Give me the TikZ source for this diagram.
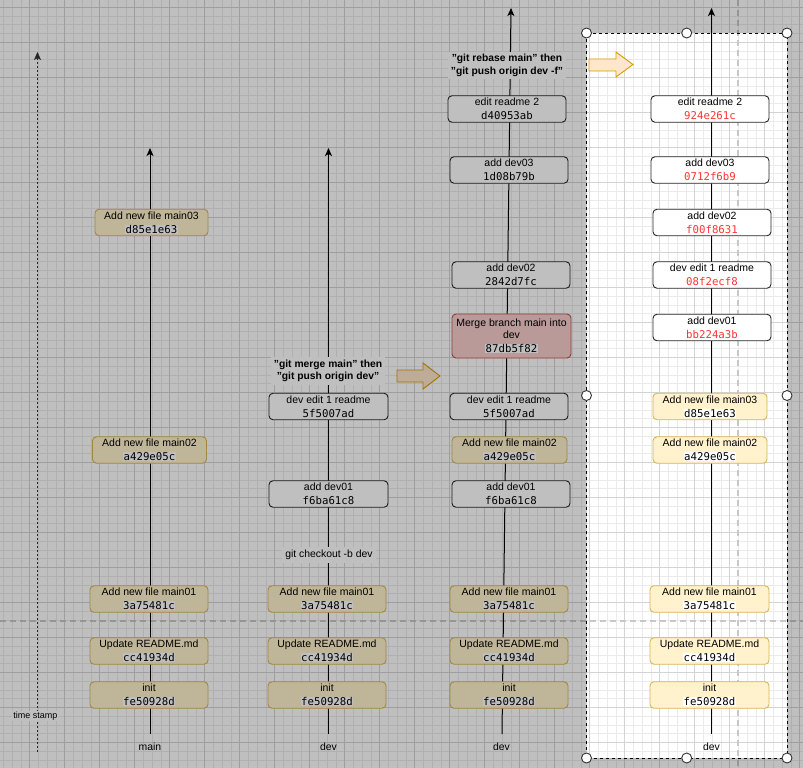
\documentclass[tikz,border=0pt]{standalone}
\usepackage{fontspec}
\setmainfont{Liberation Sans}
\newfontfamily\hashfont{DejaVu Sans Mono}
\usepackage{xcolor}
\usetikzlibrary{arrows.meta}

\definecolor{yfill}{HTML}{FFF2CC}
\definecolor{ydraw}{HTML}{D6B656}
\definecolor{rfill}{HTML}{F8CECC}
\definecolor{rdraw}{HTML}{B85450}
\definecolor{ofill}{HTML}{FFE6CC}
\definecolor{odraw}{HTML}{D79B00}
\definecolor{hashred}{HTML}{FF3333}
\definecolor{gridmin}{HTML}{EBEBEB}
\definecolor{gridmaj}{HTML}{D4D4D4}
\definecolor{pgbrk}{HTML}{C8C8C8}

% commit hash, plain and rewritten
\newcommand{\hsh}[1]{{\setlength{\fboxsep}{0.4pt}\colorbox{white}{\hashfont\fontsize{10.7}{14}\selectfont #1}}}
\newcommand{\hshr}[1]{{\hashfont\fontsize{10.7}{14}\selectfont\color{hashred}#1}}

\tikzset{
  commit/.style={rectangle,rounded corners=4pt,line width=0.9pt,align=center,
                 inner sep=1pt,minimum width=118pt,minimum height=26.5pt,
                 font=\fontsize{10.5}{14}\selectfont},
  ybox/.style={commit,fill=yfill,draw=ydraw},
  wbox/.style={commit,fill=white,draw=black!85},
  rbox/.style={commit,fill=rfill,draw=rdraw},
  tl/.style={line width=1pt,-{Stealth[length=8pt,width=7pt,inset=2pt]}},
  tsl/.style={line width=1.9pt,draw=black!80,dash pattern=on 2pt off 2pt,
              -{Stealth[length=8pt,width=7pt,inset=2pt,line width=0.5pt]}},
  note/.style={fill=white,inner sep=2.5pt,align=center,
               font=\bfseries\fontsize{10.3}{12.5}\selectfont},
  lbl/.style={font=\fontsize{10.4}{12}\selectfont},
  blk/.style={fill=ofill,draw=odraw,line width=0.9pt},
  handle/.style={circle,fill=white,draw=black!80,line width=0.9pt,
                 minimum size=10pt,inner sep=0pt},
}

\begin{document}
\begin{tikzpicture}[x=1pt,y=-1pt]
  \useasboundingbox (0,0) rectangle (803,768);
  \fill[white] (0,0) rectangle (803,768);
  % grid
  \foreach \i in {0,...,92} \draw[gridmin,line width=0.6pt] ({-5.3+8.75*\i},0) -- ++(0,768);
  \foreach \i in {0,...,91} \draw[gridmin,line width=0.6pt] (0,{-27.7+8.75*\i}) -- ++(803,0);
  \foreach \i in {0,...,23} \draw[gridmaj,line width=0.8pt] ({-5.3+35*\i},0) -- ++(0,768);
  \foreach \i in {0,...,22} \draw[gridmaj,line width=0.8pt] (0,{-27.7+35*\i}) -- ++(803,0);
  % page breaks
  \draw[pgbrk,line width=1.2pt,dash pattern=on 6pt off 4pt] (0,621) -- (803,621);
  \draw[pgbrk,line width=1.2pt,dash pattern=on 6pt off 4pt] (738,0) -- (738,768);

  % time lines
  \coordinate (ts0) at (37.5,752);  \coordinate (ts1) at (37.5,52);
  \coordinate (m0) at (150,734);    \coordinate (m1) at (150,148);
  \coordinate (d0) at (328.5,734);  \coordinate (d1) at (328.5,148);
  \coordinate (r0) at (502,734);    \coordinate (r1) at (511,8);
  \coordinate (b0) at (711.5,734);  \coordinate (b1) at (711.5,8);
  \draw[tsl] (ts0) -- (ts1);
  \draw[tl] (m0) -- (m1);
  \draw[tl] (d0) -- (d1);
  \draw[tl] (r0) -- (r1);
  \draw[tl] (b0) -- (b1);
  \node[fill=white,inner sep=1pt,font=\fontsize{9}{10}\selectfont] (ts) at (35.5,716) {time stamp};

  % main
  \node[ybox,minimum width=113pt] (m3) at (151.5,222.5) {Add new file main03\\\hsh{d85e1e63}};
  \node[ybox,minimum width=114pt] (m2) at (149.5,450) {Add new file main02\\\hsh{a429e05c}};
  \node[ybox] (m1c) at (149,599) {Add new file main01\\\hsh{3a75481c}};
  \node[ybox] (mrd) at (149,651) {Update README.md\\\hsh{cc41934d}};
  \node[ybox] (mi) at (149,695) {init\\\hsh{fe50928d}};
  \node[lbl] (mb) at (150,747) {main};

  % dev, merge
  \node[wbox,minimum width=119pt] (de1) at (328.5,406.5) {dev edit 1 readme\\\hsh{5f5007ad}};
  \node[wbox,minimum width=119pt] (dd1) at (328.5,494) {add dev01\\\hsh{f6ba61c8}};
  \node[fill=white,inner sep=3pt,lbl] (co) at (329,555) {git checkout -b dev};
  \node[ybox] (dm1) at (327,599) {Add new file main01\\\hsh{3a75481c}};
  \node[ybox] (drd) at (327,651) {Update README.md\\\hsh{cc41934d}};
  \node[ybox] (di) at (327,695) {init\\\hsh{fe50928d}};
  \node[lbl] (db) at (328.5,747) {dev};
  \node[note] (mg) at (328,371) {"git merge main" then\\"git push origin dev"};
  \draw[blk] (397,370) -- (423,370) -- (423,363) -- (440,376) -- (423,389)
    -- (423,382) -- (397,382) -- cycle;

  % dev after merge
  \node[wbox] (re2) at (507,109) {edit readme 2\\\hsh{d40953ab}};
  \node[wbox] (rd3) at (509,170) {add dev03\\\hsh{1d08b79b}};
  \node[wbox] (rd2) at (511,275) {add dev02\\\hsh{2842d7fc}};
  \node[rbox,minimum width=119pt,minimum height=44pt] (rmg) at (511.5,336)
    {Merge branch main into\\[-2pt]dev\\\hsh{87db5f82}};
  \node[wbox] (re1) at (509,406.5) {dev edit 1 readme\\\hsh{5f5007ad}};
  \node[ybox,minimum width=115pt] (rm2) at (509.5,450) {Add new file main02\\\hsh{a429e05c}};
  \node[wbox] (rd1) at (511,494) {add dev01\\\hsh{f6ba61c8}};
  \node[ybox] (rm1) at (509,599) {Add new file main01\\\hsh{3a75481c}};
  \node[ybox] (rrd) at (509,651) {Update README.md\\\hsh{cc41934d}};
  \node[ybox] (ri) at (509,695) {init\\\hsh{fe50928d}};
  \node[lbl] (rb) at (501.5,747) {dev};
  \node[note] (rbs) at (507,65.5) {"git rebase main" then\\"git push origin dev -f"};
  \draw[blk] (589,59) -- (616,59) -- (616,52) -- (633,64.5) -- (616,77)
    -- (616,71) -- (589,71) -- cycle;

  % dev after rebase
  \node[wbox] (be2) at (710,109) {edit readme 2\\\hshr{924e261c}};
  \node[wbox] (bd3) at (710,170) {add dev03\\\hshr{0712f6b9}};
  \node[wbox] (bd2) at (712,222.5) {add dev02\\\hshr{f00f8631}};
  \node[wbox] (be1) at (712,275) {dev edit 1 readme\\\hshr{08f2ecf8}};
  \node[wbox] (bd1) at (712,327.5) {add dev01\\\hshr{bb224a3b}};
  \node[ybox,minimum width=114pt] (bm3) at (710,406.5) {Add new file main03\\\hsh{d85e1e63}};
  \node[ybox,minimum width=114pt] (bm2) at (710,450) {Add new file main02\\\hsh{a429e05c}};
  \node[ybox,minimum width=119pt] (bm1) at (709.5,599) {Add new file main01\\\hsh{3a75481c}};
  \node[ybox,minimum width=119pt] (brd) at (709.5,651) {Update README.md\\\hsh{cc41934d}};
  \node[ybox,minimum width=119pt] (bi) at (709.5,695) {init\\\hsh{fe50928d}};
  \node[lbl] (bb) at (711.5,747) {dev};

  % dim all but the selection
  \fill[black,opacity=0.25,even odd rule] (0,0) rectangle (803,768)
    (586.5,33) rectangle (787,758);
  \draw[black,line width=0.9pt,dash pattern=on 3pt off 3pt] (586.5,33) rectangle (787,758);
  \foreach \p [count=\k] in {(586.5,33),(686.7,33),(787,33),(586.5,395.5),
                             (787,395.5),(586.5,758),(686.7,758),(787,758)}
    \node[handle] (h\k) at \p {};
\end{tikzpicture}
\end{document}
